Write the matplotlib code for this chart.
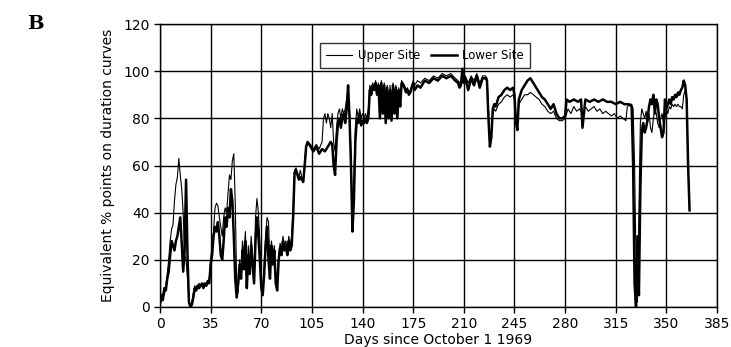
import matplotlib
matplotlib.use("Agg")
import matplotlib.pyplot as plt

# Daily equivalent percentage points on the flow-duration curves
upper_days = [0, 1, 2, 3, 4, 5, 6, 7, 8, 9, 10, 11, 12, 13, 14, 15, 16, 17, 18, 19,
              20, 21, 22, 23, 24, 25, 26, 27, 28, 29, 30, 31, 32, 33, 34, 35, 36, 37, 38, 39,
              40, 41, 42, 43, 44, 45, 46, 47, 48, 49, 50, 51, 52, 53, 54, 55, 56, 57, 58, 59,
              60, 61, 62, 63, 64, 65, 66, 67, 68, 69, 70, 71, 72, 73, 74, 75, 76, 77, 78, 79,
              80, 81, 82, 83, 84, 85, 86, 87, 88, 89, 90, 91, 92, 93, 94, 95, 96, 97, 98, 99,
              100, 101, 102, 104, 106, 108, 110, 112, 113, 114, 115, 116, 117, 118, 119,
              120, 121, 122, 123, 124, 125, 126, 127, 128, 129, 130, 131, 132, 133, 134, 135,
              136, 137, 138, 139, 140, 141, 142, 143, 144, 145, 146, 147, 148, 149, 150, 151,
              152, 153, 154, 155, 156, 157, 158, 159, 160, 161, 162, 163, 164, 165, 166, 167,
              168, 169, 170, 171, 172, 173, 174, 175, 176, 178, 180, 183, 186, 189, 192, 195,
              198, 201, 204, 206, 207, 208,
              209, 210, 211, 213, 215, 217, 219, 221, 223, 225, 226, 227, 228, 229, 230, 231,
              232, 234, 236, 238, 240, 242, 244, 245, 246, 247, 248, 249, 250, 252, 254, 256,
              258, 260, 262, 264, 266, 268, 270, 272, 274, 276, 278, 280, 282, 284, 286, 288,
              290, 292, 294, 296, 298, 300, 302, 304, 306, 308, 310, 312, 314, 316, 318, 320,
              322, 323, 325, 326, 327, 328, 329, 330, 331, 332, 333, 334, 335, 336, 337, 338,
              339, 340, 341, 342, 343, 344, 345, 346, 347, 348, 349, 350, 351, 352, 353, 354,
              355, 356, 357, 358, 359, 360, 361, 362, 363, 364, 365, 366]
upper_vals = [3, 2, 6, 5, 9, 14, 20, 28, 33, 35, 45, 52, 55, 63, 56, 50, 40, 22, 20, 12,
              3, 0, 2, 6, 9, 8, 9, 10, 9, 9, 10, 9, 10, 11, 12, 20, 26, 32, 42, 44,
              43, 38, 34, 30, 38, 42, 40, 48, 56, 54, 62, 65, 44, 10, 6, 20, 14, 28, 22, 32,
              10, 26, 18, 30, 22, 12, 38, 46, 40, 28, 12, 6, 18, 30, 38, 36, 18, 28, 22, 26,
              14, 9, 22, 27, 24, 30, 26, 28, 24, 30, 26, 30, 42, 58, 59, 57, 55, 58, 55, 54,
              62, 68, 70, 69, 67, 69, 67, 70, 80, 82, 78, 82, 80, 76, 82,
              70, 66, 76, 82, 84, 80, 84, 82, 84, 88, 92, 82, 65, 38, 55, 76,
              84, 80, 84, 80, 82, 80, 82, 80, 84, 94, 92, 95, 93, 96, 92, 95,
              84, 96, 86, 95, 82, 94, 84, 94, 82, 95, 86, 94, 84, 93, 88, 96,
              95, 94, 92, 93, 91, 92, 94, 96, 94, 96, 95, 97, 96, 98, 97, 99,
              98, 99, 97, 96, 95, 96,
              100, 96, 98, 95, 98, 96, 99, 95, 98, 98, 97, 84, 72, 74, 82, 84,
              83, 86, 87, 89, 90, 89, 90, 88, 80, 78, 86, 87, 88, 90, 90, 91,
              90, 89, 88, 86, 85, 83, 82, 83, 80, 79, 79, 80, 84, 82, 85, 83,
              84, 82, 85, 83, 84, 85, 83, 84, 82, 83, 82, 81, 82, 80, 81, 80,
              79, 85, 86, 86, 84, 60, 20, 2, 40, 78, 84, 82, 80, 83, 78, 82,
              76, 74, 80, 84, 82, 78, 76, 80, 82, 78, 80, 84, 82, 85, 84, 86,
              85, 86, 85, 86, 85, 85, 84, 90, 92, 88, 60, 42]

lower_days = [0, 1, 2, 3, 4, 5, 6, 7, 8, 9, 10, 11, 12, 13, 14, 15, 16, 17, 18, 19,
              20, 21, 22, 23, 24, 25, 26, 27, 28, 29, 30, 31, 32, 33, 34, 35, 36, 37, 38, 39,
              40, 41, 42, 43, 44, 45, 46, 47, 48, 49, 50, 51, 52, 53, 54, 55, 56, 57, 58, 59,
              60, 61, 62, 63, 64, 65, 66, 67, 68, 69, 70, 71, 72, 73, 74, 75, 76, 77, 78, 79,
              80, 81, 82, 83, 84, 85, 86, 87, 88, 89, 90, 91, 92, 93, 94, 95, 96, 97, 99,
              100, 101, 102, 104, 106, 108, 110, 112, 114, 116, 118, 119,
              120, 121, 122, 123, 124, 125, 126, 127, 128, 129, 130, 131, 132, 133, 134, 135,
              136, 137, 138, 139, 140, 141, 142, 143, 144, 145, 146, 147, 148, 149, 150, 151,
              152, 153, 154, 155, 156, 157, 158, 159, 160, 161, 162, 163, 164, 165, 166, 167,
              168, 169, 170, 171, 172, 173, 174, 175, 176, 178, 180, 183, 186, 189, 192, 195,
              198, 201, 204, 206, 207, 208,
              209, 210, 211, 213, 215, 217, 219, 221, 223, 225, 226, 227, 228, 229, 230, 231,
              232, 234, 236, 238, 240, 242, 244, 245, 246, 247, 248, 249, 250, 252, 254, 256,
              258, 260, 262, 264, 266, 268, 270, 272, 274, 276, 278, 280, 281, 283, 286, 289,
              291, 292, 294, 297, 300, 303, 306, 309, 312, 315, 318, 321, 324, 326, 327, 328,
              329, 330, 331, 332, 333, 334, 335, 336, 337, 338, 339, 340, 341, 342, 343, 344,
              345, 346, 347, 348, 349, 350, 351, 352, 353, 354, 355, 356, 357, 358, 359, 360,
              361, 362, 363, 364, 365, 366]
lower_vals = [2, 5, 3, 8, 7, 12, 15, 22, 28, 26, 24, 28, 30, 34, 38, 27, 15, 24, 54, 22,
              2, 0, 1, 4, 8, 7, 9, 8, 9, 10, 8, 10, 9, 11, 10, 18, 22, 30, 34, 32,
              36, 30, 22, 20, 28, 38, 34, 42, 38, 50, 45, 30, 12, 4, 10, 18, 12, 24, 16, 28,
              8, 22, 14, 26, 18, 10, 28, 38, 30, 20, 8, 5, 14, 26, 34, 20, 12, 26, 18, 24,
              10, 7, 20, 25, 22, 28, 24, 26, 22, 28, 24, 26, 38, 57, 58, 56, 54, 55, 53,
              60, 68, 70, 68, 66, 68, 65, 67, 66, 68, 70, 69,
              60, 56, 70, 78, 80, 76, 80, 82, 78, 84, 94, 80, 60, 32, 45, 70,
              80, 78, 82, 77, 79, 78, 80, 78, 80, 92, 90, 94, 92, 95, 90, 94,
              80, 95, 82, 94, 78, 93, 80, 92, 79, 94, 82, 93, 80, 92, 85, 95,
              94, 93, 91, 92, 90, 91, 93, 95, 92, 94, 93, 96, 95, 97, 96, 98,
              97, 98, 96, 95, 93, 94,
              101, 95, 97, 92, 97, 94, 98, 93, 97, 97, 96, 80, 68, 72, 84, 86,
              85, 89, 90, 92, 93, 92, 93, 90, 78, 75, 88, 90, 92, 94, 96, 97,
              95, 93, 91, 89, 88, 86, 84, 86, 82, 80, 80, 81, 88, 87, 88, 87,
              88, 76, 88, 87, 88, 87, 88, 87, 87, 86, 87, 86, 86, 85, 60, 10,
              0, 30, 5, 50, 75, 78, 74, 76, 80, 85, 88, 86, 90, 82, 88, 86,
              80, 76, 72, 74, 88, 84, 86, 88, 86, 89, 88, 90, 89, 91, 90, 92,
              93, 96, 94, 88, 60, 41]

x_ticks = [0, 35, 70, 105, 140, 175, 210, 245, 280, 315, 350, 385]
y_ticks = [0, 20, 40, 60, 80, 100, 120]

fig = plt.figure(figsize=(7.31, 3.47), dpi=100)
ax = fig.add_axes([0.2189, 0.1153, 0.7620, 0.8155])

ax.plot(upper_days, upper_vals, color="black", lw=0.8, label="Upper Site")
ax.plot(lower_days, lower_vals, color="black", lw=1.8, label="Lower Site")

ax.set_xlim(0, 385)
ax.set_ylim(0, 120)
ax.set_xticks(x_ticks)
ax.set_yticks(y_ticks)
ax.grid(True, color="black", lw=1.0)
ax.set_axisbelow(True)
for s in ax.spines.values():
    s.set_color("black")
    s.set_linewidth(1.0)
ax.tick_params(axis="both", direction="out", length=4, width=1.0,
               colors="black", labelsize=10)

ax.set_xlabel("Days since October 1 1969", fontsize=10, labelpad=1)
ax.set_ylabel("Equivalent % points on duration curves", fontsize=10, labelpad=6)

leg = ax.legend(loc="upper left", bbox_to_anchor=(0.287, 0.932), ncol=2,
                fontsize=8.5, frameon=True, fancybox=False, handlelength=2.2,
                columnspacing=0.9, handletextpad=0.5, borderpad=0.5,
                borderaxespad=0)
frame = leg.get_frame()
frame.set_edgecolor("black")
frame.set_linewidth(1.0)
frame.set_facecolor("none")

fig.text(0.037, 0.93, "B", fontsize=14, fontweight="bold",
         family="DejaVu Serif", va="center", ha="left")

fig.savefig("out.png", dpi=100)
